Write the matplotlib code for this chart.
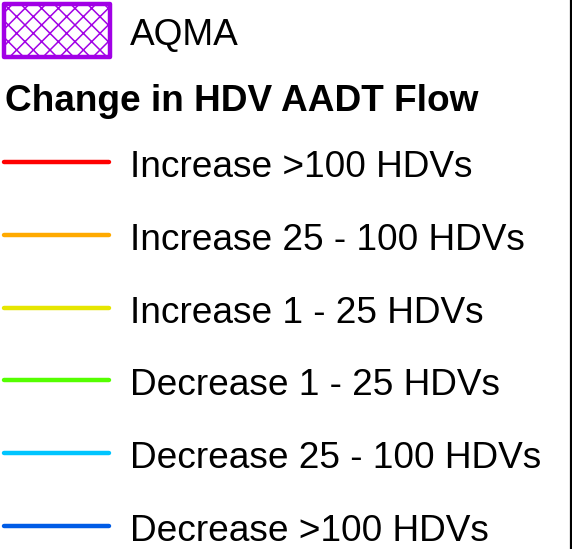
import matplotlib
matplotlib.use("Agg")
import matplotlib.pyplot as plt
from matplotlib.patches import Rectangle

plt.rcParams['font.family'] = ['Liberation Sans', 'DejaVu Sans']
plt.rcParams['hatch.linewidth'] = 1.1

aqma_label = "AQMA"
aqma_color = "#A100E6"
title = "Change in HDV AADT Flow"
labels = ["Increase >100 HDVs", "Increase 25 - 100 HDVs", "Increase 1 - 25 HDVs",
          "Decrease 1 - 25 HDVs", "Decrease 25 - 100 HDVs", "Decrease >100 HDVs"]
colors = ["#FF0000", "#FFAA00", "#E6E600", "#55FF00", "#00C5FF", "#005CE6"]

W, H = 572, 549
fig = plt.figure(figsize=(W / 100, H / 100), dpi=100)
ax = fig.add_axes([0, 0, 1, 1])
ax.set_xlim(0, W)
ax.set_ylim(H, 0)
ax.axis('off')

FS = 26.65

# AQMA box
rect = Rectangle((4, 4), 106, 53, facecolor='white', edgecolor=aqma_color,
                 linewidth=3.2, hatch='xx', joinstyle='round')
ax.add_patch(rect)
ax.text(130, 45, aqma_label, fontsize=FS, va='baseline', ha='left')

ax.text(5, 111, title, fontsize=FS, fontweight='bold', va='baseline', ha='left')

y0, dy = 162, 72.8
for i, (lab, c) in enumerate(zip(labels, colors)):
    y = y0 + i * dy
    ax.plot([4, 109], [y, y], color=c, linewidth=3.2, solid_capstyle='round')
    ax.text(130, y + 15, lab, fontsize=FS, va='baseline', ha='left')

# right border
ax.plot([W - 1, W - 1], [0, H], color='black', linewidth=1.6)

fig.savefig("out.png", dpi=100)
